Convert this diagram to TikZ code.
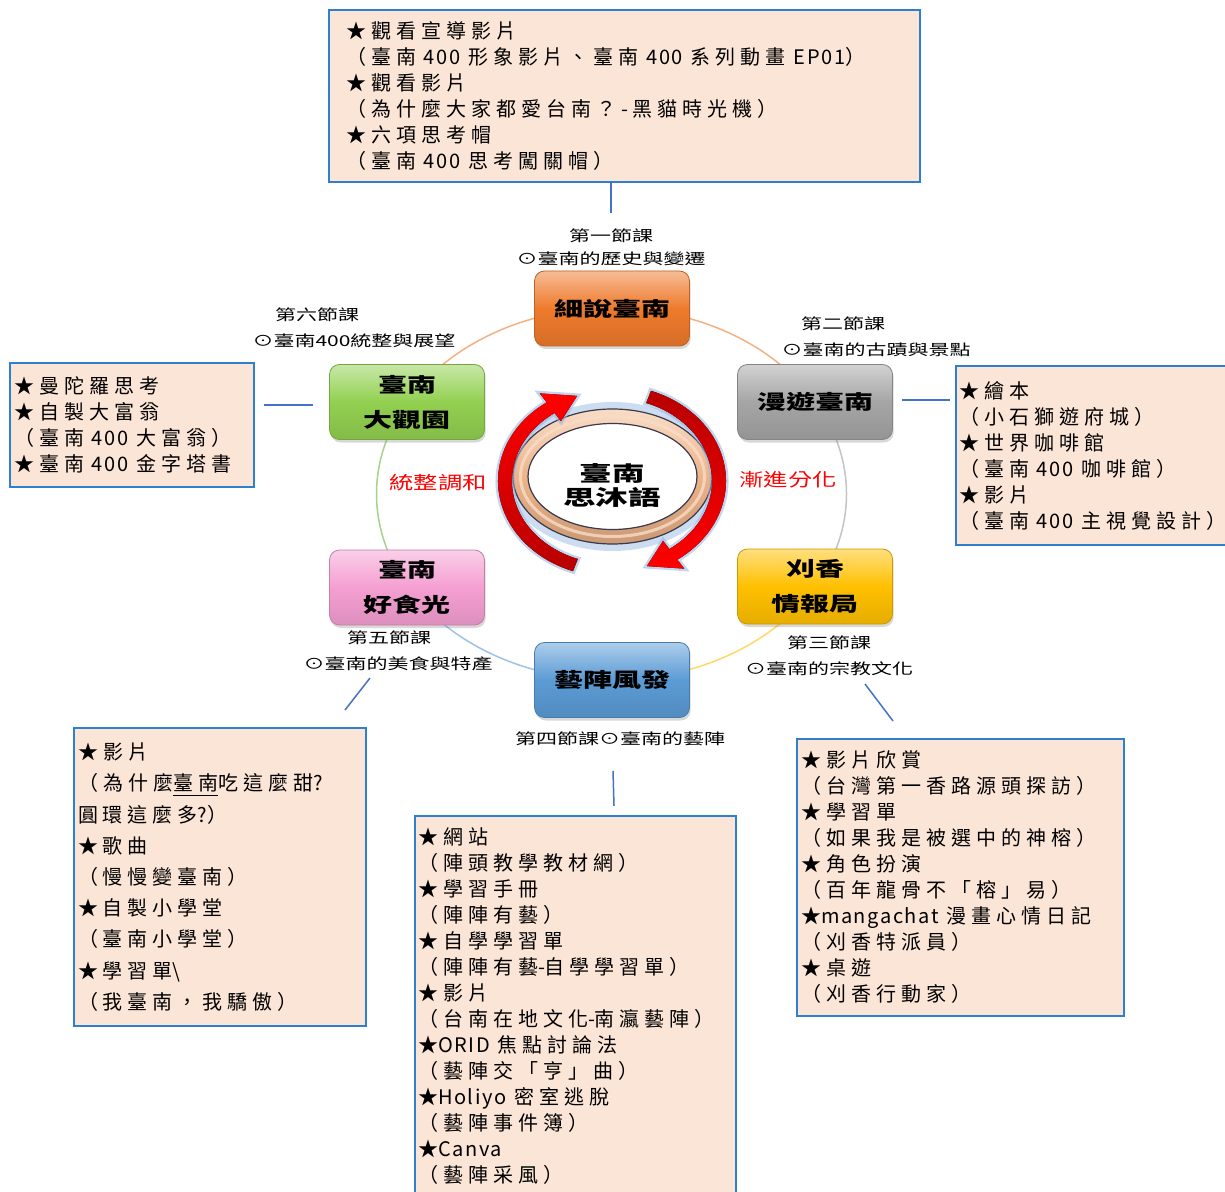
\documentclass[tikz,border=0pt]{standalone}
\usepackage{fontspec}
\usetikzlibrary{shadows}
\newfontfamily\bxfont{Noto Sans CJK TC}[LetterSpace=25]
\newfontfamily\bxlat{Noto Sans CJK TC}[LetterSpace=8]
\newfontfamily\lbfont{Noto Sans CJK TC}[FakeStretch=1.4]
\newfontfamily\rdfont{Noto Sans CJK TC}[FakeStretch=1.35]
\newfontfamily\ndfont{Noto Sans CJK TC}[FakeStretch=1.45]
\newfontfamily\rgfont{Noto Sans CJK TC}[FakeStretch=1.55]
\newcommand\La[1]{{\bxlat #1}}
\newcommand\Sp{\hspace{0.4em}}
\newdimen\px \px=0.5pt
\definecolor{boxblue}{HTML}{2F7FCC}
\definecolor{boxfill}{HTML}{FBE5D6}
\definecolor{linkblue}{HTML}{4472C4}
\definecolor{cOrange}{HTML}{EE7A2C}
\definecolor{cGray}{HTML}{A5A5A5}
\definecolor{cYellow}{HTML}{FFC000}
\definecolor{cBlue}{HTML}{5B9BD5}
\definecolor{cPink}{HTML}{F59FD2}
\definecolor{cGreen}{HTML}{92D050}
\definecolor{arcO}{HTML}{F4B183}
\definecolor{arcG}{HTML}{C4C4C4}
\definecolor{arcY}{HTML}{FFD966}
\definecolor{arcB}{HTML}{9DC3E6}
\definecolor{arcN}{HTML}{A9D18E}
\definecolor{ringtan}{HTML}{EDB48A}
\definecolor{ringhi}{HTML}{F9DCC6}
\definecolor{ringedge}{HTML}{3A3A4A}
\definecolor{glowblue}{HTML}{8FB4E3}
\begin{document}
\begin{tikzpicture}[x=0.5pt,y=-0.5pt,
  infobox/.style={draw=boxblue, line width=1pt, fill=boxfill, anchor=north west,
    align=left, inner ysep=0pt, font=\bxfont\fontsize{10}{13}\selectfont},
  topic/.style={rounded corners=10\px, minimum width=155\px, minimum height=75\px,
    draw=#1!80!black, line width=0.4pt, top color=#1!50!white, bottom color=#1!90!black,
    middle color=#1, align=center, inner sep=0pt,
    font=\ndfont\bfseries\fontsize{10}{17.5}\selectfont,
    drop shadow={opacity=0.3, shadow xshift=0.6pt, shadow yshift=-1.5pt}},
  lab/.style={font=\lbfont\fontsize{7.5}{9}\selectfont, inner sep=0pt},
  redlab/.style={font=\rdfont\fontsize{9}{11}\selectfont, text=red, inner sep=0pt},
  link/.style={draw=linkblue, line width=0.75pt},
  ringarc/.style={line width=0.75pt}
]
\useasboundingbox (0,0) rectangle (1225,1192);
\fill[white] (0,0) rectangle (1225,1192);

% ---- ellipse of links between the six lessons
\coordinate (E) at (611.5,494);
\draw[ringarc, arcO] ([shift={(270:235 and 186)}]E) arc[start angle=270, end angle=330, x radius=235, y radius=186];
\draw[ringarc, arcG] ([shift={(330:235 and 186)}]E) arc[start angle=330, end angle=390, x radius=235, y radius=186];
\draw[ringarc, arcY] ([shift={(30:235 and 186)}]E) arc[start angle=30, end angle=90, x radius=235, y radius=186];
\draw[ringarc, arcB] ([shift={(90:235 and 186)}]E) arc[start angle=90, end angle=150, x radius=235, y radius=186];
\draw[ringarc, arcN] ([shift={(150:235 and 186)}]E) arc[start angle=150, end angle=210, x radius=235, y radius=186];
\draw[ringarc, arcO] ([shift={(210:235 and 186)}]E) arc[start angle=210, end angle=270, x radius=235, y radius=186];

% ---- central ring
\coordinate (R) at (612.5,476.5);
\draw[glowblue, line width=7\px, opacity=0.45] (R) ellipse[x radius=103, y radius=71];
\fill[white] (R) ellipse[x radius=85, y radius=54];
\fill[even odd rule, top color=ringhi, bottom color=ringtan!85!black, middle color=ringtan]
  (R) ellipse[x radius=99.5, y radius=67.5] (R) ellipse[x radius=84.5, y radius=53];
\draw[ringhi, line width=3\px, opacity=0.8] (R) ellipse[x radius=92, y radius=60];
\draw[ringedge, line width=1.2\px] (R) ellipse[x radius=99.5, y radius=67.5];
\draw[ringedge, line width=1.2\px] (R) ellipse[x radius=84.5, y radius=53];
\node[font=\rgfont\bfseries\fontsize{10.5}{12}\selectfont, align=center, inner sep=0pt] (core) at (612,486) {臺南\\思沐語};

% ---- circular arrows
\coordinate (C) at (612,481);
\fill[top color=red, bottom color=red!72!black,
      preaction={draw=glowblue, line width=5\px, opacity=0.55}]
  ([shift={(110:114 and 96)}]C) arc[start angle=110, end angle=235, x radius=114, y radius=96]
  -- ([shift={(235:126 and 107)}]C) -- ([shift={(251:107 and 90)}]C)
  -- ([shift={(235:89 and 73)}]C) -- ([shift={(235:100 and 83)}]C)
  arc[start angle=235, end angle=110, x radius=100, y radius=83] -- cycle;
\fill[top color=red!72!black, bottom color=red,
      preaction={draw=glowblue, line width=5\px, opacity=0.55}]
  ([shift={(-70:114 and 96)}]C) arc[start angle=-70, end angle=55, x radius=114, y radius=96]
  -- ([shift={(55:126 and 107)}]C) -- ([shift={(71:107 and 90)}]C)
  -- ([shift={(55:89 and 73)}]C) -- ([shift={(55:100 and 83)}]C)
  arc[start angle=55, end angle=-70, x radius=100, y radius=83] -- cycle;

\node[redlab] (rl) at (438,483) {統整調和};
\node[redlab] (rr) at (788,480) {漸進分化};

% ---- six lesson nodes
\node[topic=cOrange] (n1) at (612,308.5) {細說臺南};
\node[topic=cGray]   (n2) at (815,402) {漫遊臺南};
\node[topic=cYellow] (n3) at (815,586.5) {刈香\\情報局};
\node[topic=cBlue]   (n4) at (612,680) {藝陣風發};
\node[topic=cPink]   (n5) at (407,587.5) {臺南\\好食光};
\node[topic=cGreen]  (n6) at (407,402) {臺南\\大觀園};

% ---- lesson labels
\node[lab] (l1a) at (611,236) {第一節課};
\node[lab] (l1b) at (611,259) {⊙臺南的歷史與變遷};
\node[lab] (l2a) at (843,324) {第二節課};
\node[lab] (l2b) at (876,350) {⊙臺南的古蹟與景點};
\node[lab] (l3a) at (829,643) {第三節課};
\node[lab] (l3b) at (829,669) {⊙臺南的宗教文化};
\node[lab] (l4)  at (620,739) {第四節課⊙臺南的藝陣};
\node[lab] (l5a) at (389,638) {第五節課};
\node[lab] (l5b) at (398,664) {⊙臺南的美食與特產};
\node[lab] (l6a) at (317,315) {第六節課};
\node[lab] (l6b) at (354,341) {⊙臺南400統整與展望};

% ---- resource boxes
\node[infobox, minimum width=591\px, minimum height=172\px, text width=557\px, inner xsep=17\px] (b1) at (328,9)
{★觀看宣導影片\\
（臺南\Sp{}\La{400}\Sp{}形象影片、臺南\Sp{}\La{400}\Sp{}系列動畫\Sp{}\La{EP01}）\\
★觀看影片\\
（為什麼大家都愛台南？-黑貓時光機）\\
★六項思考帽\\
（臺南\Sp{}\La{400}\Sp{}思考闖關帽）};

\node[infobox, minimum width=244\px, minimum height=124\px, text width=236\px, inner xsep=4\px] (b6) at (9,362)
{★曼陀羅思考\\
★自製大富翁\\
（臺南\Sp{}\La{400}\Sp{}大富翁）\\
★臺南\Sp{}\La{400}\Sp{}金字塔書};

\node[infobox, minimum width=277\px, minimum height=179\px, text width=271\px, inner xsep=3\px] (b2) at (955,365)
{★繪本\\
（小石獅遊府城）\\
★世界咖啡館\\
（臺南\Sp{}\La{400}\Sp{}咖啡館）\\
★影片\\
（臺南\Sp{}\La{400}\Sp{}主視覺設計）};

\node[infobox, minimum width=292\px, minimum height=298\px, text width=284\px, inner xsep=4\px,
      font=\bxfont\fontsize{10}{15.6}\selectfont] (b5) at (73,727)
{★影片\\
（為什麼\underline{臺南}吃這麼甜\La{?}\\
圓環這麼多\La{?}）\\
★歌曲\\
（慢慢變臺南）\\
★自製小學堂\\
（臺南小學堂）\\
★學習單\La{\textbackslash}\\
（我臺南，我驕傲）};

\node[infobox, minimum width=321\px, minimum height=381\px, text width=315\px, inner xsep=3\px] (b4) at (414,815)
{★網站\\
（陣頭教學教材網）\\
★學習手冊\\
（陣陣有藝）\\
★自學學習單\\
（陣陣有藝\La{-}自學學習單）\\
★影片\\
（台南在地文化\La{-}南瀛藝陣）\\
★\La{ORID}\Sp{}焦點討論法\\
（藝陣交「亨」曲）\\
★\La{Holiyo}\Sp{}密室逃脫\\
（藝陣事件簿）\\
★\La{Canva}\\
（藝陣采風）};

\node[infobox, minimum width=327\px, minimum height=277\px, text width=319\px, inner xsep=4\px] (b3) at (796,738)
{★影片欣賞\\
（台灣第一香路源頭探訪）\\
★學習單\\
（如果我是被選中的神榕）\\
★角色扮演\\
（百年龍骨不「榕」易）\\
★\La{mangachat}\Sp{}漫畫心情日記\\
（刈香特派員）\\
★桌遊\\
（刈香行動家）};

% ---- connectors between boxes and lessons
\coordinate (k1a) at (611,182);  \coordinate (k1b) at (611,213);
\coordinate (k6a) at (264,405);  \coordinate (k6b) at (313,405);
\coordinate (k2a) at (902,400);  \coordinate (k2b) at (950,400);
\coordinate (k5a) at (370,678);  \coordinate (k5b) at (345,710);
\coordinate (k4a) at (613,771);  \coordinate (k4b) at (614,806);
\coordinate (k3a) at (865,684);  \coordinate (k3b) at (893,721);
\draw[link] (k1a) -- (k1b);
\draw[link] (k6a) -- (k6b);
\draw[link] (k2a) -- (k2b);
\draw[link] (k5a) -- (k5b);
\draw[link] (k4a) -- (k4b);
\draw[link] (k3a) -- (k3b);
\end{tikzpicture}
\end{document}
